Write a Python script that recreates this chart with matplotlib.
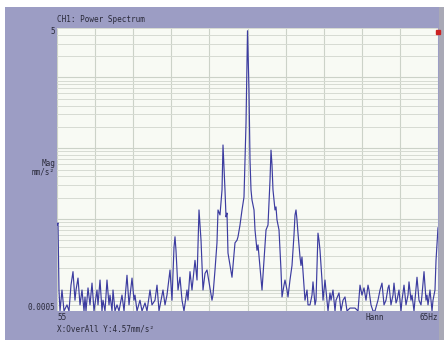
import numpy as np
import matplotlib
matplotlib.use("Agg")
import matplotlib.pyplot as plt
from matplotlib.ticker import LogLocator, MultipleLocator, NullFormatter

# spectrum (Hz, mm/s^2)
freq_hz = [55.000, 55.026, 55.052, 55.079, 55.131, 55.184, 55.262, 55.315, 55.367, 55.420,
           55.472, 55.499, 55.551, 55.604, 55.656, 55.709, 55.735, 55.761, 55.814, 55.866,
           55.919, 55.971, 56.050, 56.076, 56.129, 56.181, 56.207, 56.260, 56.312, 56.365,
           56.391, 56.444, 56.470, 56.522, 56.575, 56.627, 56.706, 56.759, 56.837, 56.890,
           56.969, 57.021, 57.047, 57.100, 57.178, 57.231, 57.310, 57.362, 57.441, 57.493,
           57.572, 57.625, 57.677, 57.730, 57.782, 57.835, 57.887, 57.966, 58.018, 58.071,
           58.097, 58.123, 58.176, 58.228, 58.281, 58.333, 58.412, 58.438, 58.491, 58.543,
           58.622, 58.675, 58.727, 58.780, 58.832, 58.885, 58.937, 59.016, 59.068, 59.094,
           59.147, 59.199, 59.226, 59.278, 59.331, 59.357, 59.409, 59.436, 59.462, 59.488,
           59.541, 59.593, 59.646, 59.672, 59.724, 59.751, 59.803, 59.856, 59.908, 59.961,
           59.987, 60.000, 60.039, 60.066, 60.092, 60.118, 60.171, 60.197, 60.249, 60.276,
           60.328, 60.381, 60.433, 60.486, 60.538, 60.591, 60.617, 60.643, 60.669, 60.722,
           60.748, 60.774, 60.827, 60.879, 60.906, 60.958, 60.984, 61.037, 61.063, 61.115,
           61.168, 61.194, 61.220, 61.247, 61.273, 61.299, 61.325, 61.378, 61.404, 61.430,
           61.483, 61.509, 61.562, 61.588, 61.640, 61.693, 61.719, 61.772, 61.798, 61.850,
           61.877, 61.903, 61.955, 61.982, 62.034, 62.087, 62.113, 62.165, 62.192, 62.244,
           62.297, 62.323, 62.402, 62.454, 62.507, 62.559, 62.612, 62.690, 62.822, 62.900,
           62.953, 63.005, 63.058, 63.110, 63.163, 63.189, 63.241, 63.294, 63.346, 63.425,
           63.478, 63.530, 63.583, 63.635, 63.688, 63.714, 63.766, 63.819, 63.845, 63.898,
           63.924, 63.976, 64.029, 64.055, 64.108, 64.160, 64.213, 64.239, 64.291, 64.318,
           64.370, 64.396, 64.449, 64.501, 64.554, 64.580, 64.633, 64.685, 64.711, 64.738,
           64.790, 64.843, 64.869, 64.921, 64.948, 65.000]

mag = [0.0082, 0.0088, 0.00099, 0.0005, 0.00099, 0.0005, 0.00061, 0.0005, 0.00116, 0.0018,
       0.00071, 0.00099, 0.00146, 0.00061, 0.00099, 0.0005, 0.00079, 0.0005, 0.00106, 0.00061,
       0.00124, 0.0005, 0.00099, 0.00061, 0.00137, 0.0005, 0.00071, 0.0005, 0.00137, 0.00061,
       0.00084, 0.0005, 0.00099, 0.0005, 0.00061, 0.0005, 0.00084, 0.0005, 0.0016, 0.00061,
       0.00146, 0.00071, 0.00084, 0.0005, 0.00071, 0.0005, 0.00065, 0.0005, 0.00099, 0.00061,
       0.00071, 0.00116, 0.0005, 0.00071, 0.00099, 0.00061, 0.00084, 0.0019, 0.00071, 0.0040,
       0.0056, 0.0036, 0.00099, 0.0015, 0.00071, 0.0005, 0.00099, 0.00071, 0.0018, 0.00099,
       0.0026, 0.00137, 0.0134, 0.0050, 0.00099, 0.0017, 0.0019, 0.00106, 0.00071, 0.00084,
       0.0019, 0.0046, 0.0134, 0.0114, 0.0257, 0.111, 0.0257, 0.0107, 0.0121, 0.0033,
       0.0022, 0.0015, 0.0031, 0.0046, 0.0050, 0.0056, 0.0082, 0.0134, 0.0204, 0.227,
       1.77, 4.57, 0.665, 0.068, 0.0257, 0.0185, 0.0134, 0.0070, 0.0036, 0.0043,
       0.0021, 0.00099, 0.0026, 0.0070, 0.0082, 0.0356, 0.094, 0.058, 0.0257, 0.0134,
       0.0148, 0.0097, 0.0070, 0.0019, 0.00079, 0.00116, 0.00137, 0.00099, 0.00079, 0.00137,
       0.0022, 0.0036, 0.0059, 0.0114, 0.0134, 0.0097, 0.0063, 0.0029, 0.0022, 0.0029,
       0.00116, 0.00071, 0.00099, 0.00061, 0.00061, 0.00084, 0.00129, 0.00061, 0.00071, 0.0063,
       0.0050, 0.0036, 0.00137, 0.00071, 0.00137, 0.00071, 0.0005, 0.0009, 0.00071, 0.00099,
       0.0005, 0.00071, 0.0009, 0.0005, 0.00071, 0.00079, 0.0005, 0.00055, 0.00055, 0.0005,
       0.00116, 0.00084, 0.00106, 0.00071, 0.00116, 0.00099, 0.00061, 0.0005, 0.0005, 0.00071,
       0.00099, 0.00124, 0.00061, 0.00071, 0.00106, 0.00116, 0.00061, 0.00084, 0.00124, 0.00065,
       0.00071, 0.00099, 0.0005, 0.00071, 0.00116, 0.00061, 0.00084, 0.00129, 0.00071, 0.00084,
       0.0005, 0.00071, 0.0015, 0.00071, 0.00061, 0.00084, 0.0018, 0.00071, 0.00084, 0.00061,
       0.00099, 0.0005, 0.00071, 0.00099, 0.0026, 0.0075]

bg = '#9c9dc4'
fig = plt.figure(figsize=(4.44, 3.40), dpi=100)
fig.patch.set_facecolor('white')
# lavender panel of the instrument screen
fig.add_artist(plt.Rectangle((5/444, 0), 1, 1 - 7/340, transform=fig.transFigure,
                             facecolor=bg, edgecolor='none', zorder=-10))

ax = fig.add_axes([57/444, 29/340, 381/444, 283/340])
ax.set_facecolor('#f8faf4')
ax.plot(freq_hz, mag, color='#3c3ca0', lw=0.85, zorder=3)

ax.set_yscale('log')
ax.set_xlim(55, 65)
ax.set_ylim(0.0005, 5)
ax.xaxis.set_major_locator(MultipleLocator(1))
ax.yaxis.set_major_locator(LogLocator(base=10, numticks=10))
ax.yaxis.set_minor_locator(LogLocator(base=10, subs=np.arange(2, 10), numticks=20))
ax.grid(True, which='major', color='#ccd2c8', lw=0.8)
ax.grid(True, which='minor', axis='y', color='#d6dbd2', lw=0.7)
ax.tick_params(which='both', length=0, labelbottom=False, labelleft=False)
ax.yaxis.set_minor_formatter(NullFormatter())
for s in ax.spines.values():
    s.set_visible(False)

# grey strip at the right edge
fig.add_artist(plt.Rectangle((439/444, 0), 5/444, 1 - 7/340, transform=fig.transFigure,
                             facecolor='#a9a9b6', edgecolor='none', zorder=-5))

# red cursor mark in the top right corner
ax.plot([65], [4.4], marker='s', ms=3, color='#cc2222', clip_on=False, zorder=5)

fs = 5.5
font = 'DejaVu Sans Mono'
tc = '#2a2a3a'
fig.text(57/444, 1 - 20/340, 'CH1: Power Spectrum', fontsize=fs, family=font, color=tc, va='center')
fig.text(55/444, 1 - 31/340, '5', fontsize=fs, family=font, color=tc, va='center', ha='right')
fig.text(55/444, 1 - 308/340, '0.0005', fontsize=fs, family=font, color=tc, va='center', ha='right')
fig.text(55/444, 1 - 163/340, 'Mag', fontsize=fs, family=font, color=tc, va='center', ha='right')
fig.text(55/444, 1 - 172/340, 'mm/s²', fontsize=fs, family=font, color=tc, va='center', ha='right')
fig.text(57/444, 1 - 318/340, '55', fontsize=fs, family=font, color=tc, va='center')
fig.text(375/444, 1 - 318/340, 'Hann', fontsize=fs, family=font, color=tc, va='center', ha='center')
fig.text(438/444, 1 - 318/340, '65Hz', fontsize=fs, family=font, color=tc, va='center', ha='right')
fig.text(57/444, 1 - 329/340, 'X:OverAll Y:4.57mm/s²', fontsize=fs, family=font, color=tc, va='center')

fig.savefig('out.png', dpi=100, facecolor=fig.get_facecolor())
